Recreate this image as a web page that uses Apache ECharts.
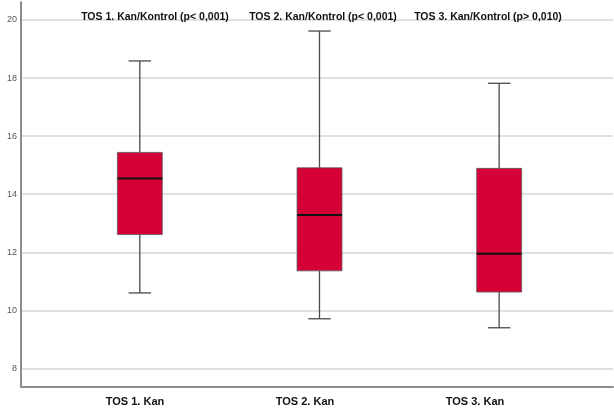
<!DOCTYPE html>
<html>
<head>
<meta charset="utf-8">
<script src="https://cdn.jsdelivr.net/npm/echarts@6/dist/echarts.min.js"></script>
<style>
  html, body { margin: 0; padding: 0; background: #fff; }
  #chart { width: 614px; height: 412px; }
</style>
</head>
<body>
<div id="chart"></div>
<script>
// Group names and the five-number summary of each box
const categories = ['TOS 1. Kan', 'TOS 2. Kan', 'TOS 3. Kan'];
const whiskerLow = [10.60, 9.71, 9.40];
const q1 = [12.61, 11.36, 10.63];
const median = [14.54, 13.28, 11.95];
const q3 = [15.44, 14.91, 14.89];
const whiskerHigh = [18.59, 19.62, 17.82];

// Comparison headings printed above each box
const panelTitles = [
  'TOS 1. Kan/Kontrol (p< 0,001)',
  'TOS 2. Kan/Kontrol (p< 0,001)',
  'TOS 3. Kan/Kontrol (p> 0,010)'
];

const Y_MIN = 7.36;
const Y_MAX = 20.62;
const FONT = '"Liberation Sans", Arial, sans-serif';
const BOX_COLOR = '#D50036';

const boxData = categories.map((c, i) => [i, whiskerLow[i], q1[i], median[i], q3[i], whiskerHigh[i]]);

function renderBox(params, api) {
  const x = api.value(0);
  const band = api.size([1, 0])[0];
  const boxW = band * 0.25;
  const capW = boxW * 0.5;
  const pLow = api.coord([x, api.value(1)]);
  const pQ1 = api.coord([x, api.value(2)]);
  const pMed = api.coord([x, api.value(3)]);
  const pQ3 = api.coord([x, api.value(4)]);
  const pHigh = api.coord([x, api.value(5)]);
  const cx = pMed[0];
  const whiskerStyle = { stroke: '#4a4a4a', lineWidth: 1.3 };
  return {
    type: 'group',
    children: [
      { type: 'line', shape: { x1: cx, y1: pHigh[1], x2: cx, y2: pQ3[1] }, style: whiskerStyle },
      { type: 'line', shape: { x1: cx, y1: pQ1[1], x2: cx, y2: pLow[1] }, style: whiskerStyle },
      { type: 'line', shape: { x1: cx - capW / 2, y1: pHigh[1], x2: cx + capW / 2, y2: pHigh[1] }, style: whiskerStyle },
      { type: 'line', shape: { x1: cx - capW / 2, y1: pLow[1], x2: cx + capW / 2, y2: pLow[1] }, style: whiskerStyle },
      {
        type: 'rect',
        shape: { x: cx - boxW / 2, y: pQ3[1], width: boxW, height: pQ1[1] - pQ3[1] },
        style: { fill: BOX_COLOR, stroke: '#5a5a5a', lineWidth: 0.8 }
      },
      { type: 'line', shape: { x1: cx - boxW / 2, y1: pMed[1], x2: cx + boxW / 2, y2: pMed[1] }, style: { stroke: '#111', lineWidth: 2 } }
    ]
  };
}

const chart = echarts.init(document.getElementById('chart'), null, { renderer: 'canvas' });

const hiddenY = (gridIndex) => ({
  type: 'value', gridIndex, min: Y_MIN, max: Y_MAX,
  show: false, splitLine: { show: false }
});

chart.setOption({
  animation: false,
  backgroundColor: '#ffffff',
  title: panelTitles.map((t, i) => ({
    text: t,
    left: [150, 318, 483][i],
    top: 7,
    textAlign: 'center',
    textStyle: { fontFamily: FONT, fontSize: 10.5, fontWeight: 'bold', color: '#111' }
  })),
  grid: [
    { left: 21, right: 1, top: 2, bottom: 25 },
    { left: 50, right: 25, top: 2, bottom: 25 },
    { left: 50, right: 54, top: 2, bottom: 25 }
  ],
  xAxis: [
    {
      type: 'category', gridIndex: 0, data: categories,
      axisLine: { show: true, lineStyle: { color: '#8c8c8c', width: 2 } },
      axisTick: { show: false }, axisLabel: { show: false }
    },
    {
      type: 'category', gridIndex: 1, data: categories,
      axisLine: { show: false }, axisTick: { show: false }, axisLabel: { show: false }
    },
    {
      type: 'category', gridIndex: 2, data: categories,
      axisLine: { show: false }, axisTick: { show: false },
      axisLabel: { show: true, margin: 9, fontFamily: FONT, fontSize: 11, fontWeight: 'bold', color: '#111' }
    }
  ],
  yAxis: [
    {
      type: 'value', gridIndex: 0, min: Y_MIN, max: Y_MAX, splitNumber: 6,
      axisLine: { show: true, lineStyle: { color: '#8c8c8c', width: 2 } },
      axisTick: { show: false },
      axisLabel: { margin: 4, fontFamily: FONT, fontSize: 9, color: '#555', showMinLabel: false, showMaxLabel: false },
      splitLine: { show: true, showMinLine: false, showMaxLine: false, lineStyle: { color: '#d6d6d6', width: 1.5 } }
    },
    hiddenY(1),
    hiddenY(2)
  ],
  series: [
    {
      type: 'custom',
      xAxisIndex: 1,
      yAxisIndex: 1,
      data: boxData,
      renderItem: renderBox,
      encode: { x: 0, y: [1, 2, 3, 4, 5] }
    }
  ]
});
</script>
</body>
</html>
